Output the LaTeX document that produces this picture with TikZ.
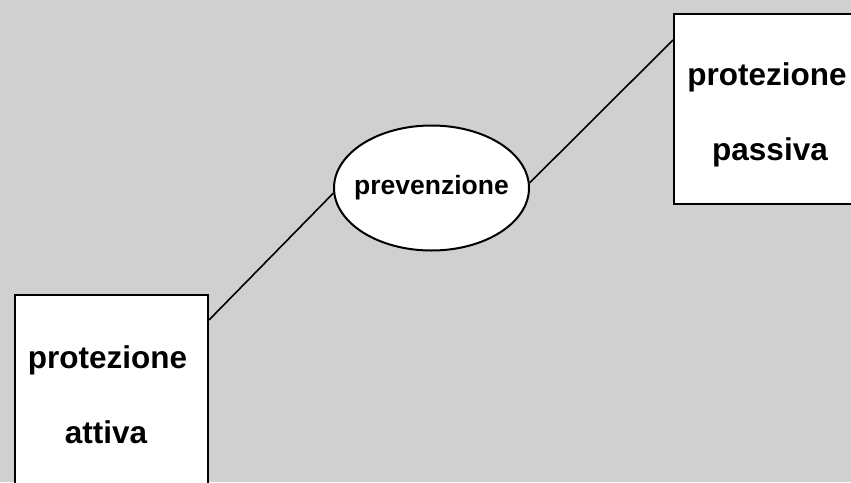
\documentclass[tikz,border=0pt]{standalone}
\usepackage{fontspec}
\setmainfont{Liberation Sans}
\usetikzlibrary{shapes.geometric}
\definecolor{bggray}{RGB}{208,208,208}

\begin{document}
\begin{tikzpicture}[x=1pt,y=-1pt,
  box/.style={draw,fill=white,line width=2pt,rectangle,inner sep=0pt,anchor=north west},
  bigtext/.style={font=\fontsize{31.5}{38}\selectfont\bfseries,anchor=base,inner sep=0pt},
  conn/.style={line width=1.6pt}]
\fill[bggray] (0,0) rectangle (851,482);
\useasboundingbox (0,0) rectangle (851,482);
\begin{scope}
\clip (0,0) rectangle (851,482);
\node[box,minimum width=193pt,minimum height=220pt] (attiva) at (14,294) {};
\node[box,minimum width=200pt,minimum height=190pt] (passiva) at (673,13) {};
\node[draw,fill=white,line width=2pt,ellipse,inner xsep=-12pt,inner ysep=0pt,minimum width=195pt,minimum height=125pt,
  font=\fontsize{26.5}{32}\selectfont\bfseries] (prev) at (431.5,188) {prevenzione};
\node[bigtext] (attiva1) at (107.5,368) {protezione};
\node[bigtext] (attiva2) at (106,443) {attiva};
\node[bigtext] (passiva1) at (767,85) {protezione};
\node[bigtext] (passiva2) at (770,160) {passiva};
\end{scope}
\coordinate (a1) at ([yshift=-26pt]attiva.north east);
\coordinate (p1) at ([yshift=-27pt]passiva.north west);
\draw[conn] (a1) -- (prev.183);
\draw[conn] (prev.3) -- (p1);
\end{tikzpicture}
\end{document}
